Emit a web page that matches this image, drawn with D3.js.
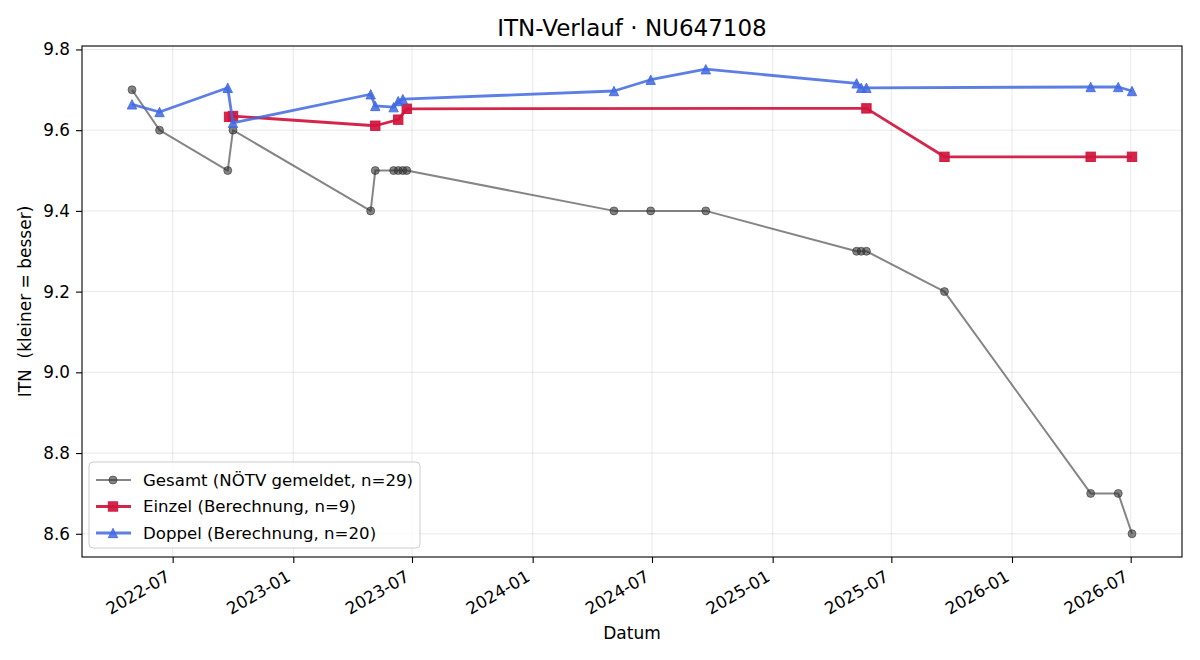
<!DOCTYPE html>
<html lang="de">
<head>
<meta charset="UTF-8" />
<title>ITN-Verlauf</title>
<script src="https://d3js.org/d3.v7.min.js"></script>
<style>
    body { margin: 0; background: #fff; font-family: "DejaVu Sans", sans-serif; }
    .grid line { stroke: #b0b0b0; stroke-opacity: 0.35; stroke-width: 0.8; }
    .axis text { font-size: 16.8px; fill: #000; font-family: "DejaVu Sans", sans-serif; }
    .axis line, .axis path { stroke: #000; stroke-width: 1.1; }
    text { white-space: pre; }
</style>
</head>
<body>
<div id="chart"></div>
<script>
// Gesamt (NÖTV gemeldet)
var gesamtDates = ["2022-04-30", "2022-06-11", "2022-09-23", "2022-10-01", "2023-04-29", "2023-05-06",
    "2023-06-03", "2023-06-10", "2023-06-17", "2023-06-23", "2024-05-04", "2024-06-29", "2024-09-21",
    "2025-05-09", "2025-05-16", "2025-05-24", "2025-09-20", "2026-05-01", "2026-06-12", "2026-07-03"];
var gesamtValues = [9.7, 9.6, 9.5, 9.6, 9.4, 9.5, 9.5, 9.5, 9.5, 9.5, 9.4, 9.4, 9.4,
    9.3, 9.3, 9.3, 9.2, 8.7, 8.7, 8.6];

// Einzel (Berechnung)
var einzelDates = ["2022-09-25", "2022-10-01", "2023-05-06", "2023-06-10", "2023-06-23",
    "2025-05-24", "2025-09-20", "2026-05-01", "2026-07-03"];
var einzelValues = [9.633, 9.635, 9.611, 9.626, 9.653, 9.654, 9.534, 9.534, 9.534];

// Doppel (Berechnung)
var doppelDates = ["2022-04-30", "2022-06-11", "2022-09-23", "2022-10-01", "2023-04-29", "2023-05-06",
    "2023-06-03", "2023-06-10", "2023-06-17", "2024-05-04", "2024-06-29", "2024-09-21",
    "2025-05-09", "2025-05-16", "2025-05-24", "2026-05-01", "2026-06-12", "2026-07-03"];
var doppelValues = [9.664, 9.645, 9.705, 9.618, 9.689, 9.660, 9.657, 9.672, 9.677, 9.697, 9.725, 9.751,
    9.716, 9.705, 9.705, 9.707, 9.707, 9.697];

var yTicks = [8.6, 8.8, 9.0, 9.2, 9.4, 9.6, 9.8];
var legendLabels = ["Gesamt (NÖTV gemeldet, n=29)", "Einzel (Berechnung, n=9)", "Doppel (Berechnung, n=20)"];

function init() {
    var W = 1200, H = 660;
    var m = { left: 82, right: 18, top: 46, bottom: 103 };
    var w = W - m.left - m.right;
    var h = H - m.top - m.bottom;
    var parse = d3.utcParse("%Y-%m-%d");

    function pack(dates, vals) {
        return dates.map(function(d, i) { return { date: parse(d), v: vals[i] }; });
    }
    var series = [
        { data: pack(gesamtDates, gesamtValues), color: "#333333", opacity: 0.6, lw: 2, marker: "circle", size: 8 },
        { data: pack(einzelDates, einzelValues), color: "#d0143c", opacity: 0.92, lw: 2.8, marker: "square", size: 9.4 },
        { data: pack(doppelDates, doppelValues), color: "#4169e1", opacity: 0.85, lw: 2.8, marker: "triangle", size: 9.4 }
    ];

    var all = series[0].data.concat(series[1].data, series[2].data);
    var xExt = d3.extent(all, function(d) { return d.date; });
    var yExt = d3.extent(all, function(d) { return d.v; });
    var xPad = (xExt[1] - xExt[0]) * 0.05;
    var yPad = (yExt[1] - yExt[0]) * 0.05;

    var x = d3.scaleUtc()
        .domain([new Date(+xExt[0] - xPad), new Date(+xExt[1] + xPad)])
        .range([0, w]);
    var y = d3.scaleLinear()
        .domain([yExt[0] - yPad, yExt[1] + yPad])
        .range([h, 0]);

    var svg = d3.select("#chart").append("svg")
        .attr("width", W).attr("height", H);
    var g = svg.append("g").attr("transform", "translate(" + m.left + "," + m.top + ")");

    var xTicks = d3.utcMonth.every(6).range(parse("2022-07-01"), parse("2026-07-02"));

    // grid
    var grid = g.append("g").attr("class", "grid");
    grid.selectAll(".gx").data(xTicks).enter().append("line")
        .attr("x1", function(d) { return x(d); }).attr("x2", function(d) { return x(d); })
        .attr("y1", 0).attr("y2", h);
    grid.selectAll(".gy").data(yTicks).enter().append("line")
        .attr("y1", function(d) { return y(d); }).attr("y2", function(d) { return y(d); })
        .attr("x1", 0).attr("x2", w);

    // axes
    var xAxis = g.append("g").attr("class", "axis")
        .attr("transform", "translate(0," + h + ")")
        .call(d3.axisBottom(x).tickValues(xTicks).tickFormat(d3.utcFormat("%Y-%m")).tickSizeOuter(0).tickSize(6));
    xAxis.select(".domain").remove();
    // right edge of rotated box on the tick, top of box just below the tick
    xAxis.selectAll("text")
        .attr("text-anchor", "end")
        .attr("dy", null)
        .attr("y", 0).attr("x", 0)
        .attr("transform", "translate(-2,23) rotate(-30)");

    var yAxis = g.append("g").attr("class", "axis")
        .call(d3.axisLeft(y).tickValues(yTicks).tickFormat(d3.format(".1f")).tickSizeOuter(0).tickSize(6).tickPadding(6));
    yAxis.select(".domain").remove();

    // frame
    g.append("rect").attr("width", w).attr("height", h)
        .attr("fill", "none").attr("stroke", "#000").attr("stroke-width", 1.1);

    function drawMarker(sel, type, size) {
        var r = size / 2;
        if (type === "circle") {
            sel.append("circle").attr("r", r);
        } else if (type === "square") {
            sel.append("rect").attr("x", -r).attr("y", -r).attr("width", size).attr("height", size);
        } else {
            sel.append("path").attr("d", "M0," + (-r) + "L" + r + "," + r + "L" + (-r) + "," + r + "Z");
        }
    }

    var line = d3.line().x(function(d) { return x(d.date); }).y(function(d) { return y(d.v); });

    series.forEach(function(s) {
        var sg = g.append("g");
        sg.append("path").datum(s.data)
            .attr("d", line)
            .attr("fill", "none")
            .attr("stroke", s.color)
            .attr("stroke-opacity", s.opacity)
            .attr("stroke-width", s.lw)
            .attr("stroke-linejoin", "round");
        var pts = sg.selectAll(".pt").data(s.data).enter().append("g")
            .attr("transform", function(d) { return "translate(" + x(d.date) + "," + y(d.v) + ")"; })
            .attr("fill", s.color).attr("fill-opacity", s.opacity)
            .attr("stroke", s.color).attr("stroke-opacity", s.opacity).attr("stroke-width", 1);
        pts.each(function() { drawMarker(d3.select(this), s.marker, s.size); });
    });

    // legend
    var lg = svg.append("g").attr("transform", "translate(89,462)");
    lg.append("rect").attr("width", 331).attr("height", 86).attr("rx", 4)
        .attr("fill", "#fff").attr("fill-opacity", 0.8)
        .attr("stroke", "#cccccc").attr("stroke-width", 1);
    series.forEach(function(s, i) {
        var row = lg.append("g").attr("transform", "translate(0," + (18 + i * 26.5) + ")");
        row.append("line").attr("x1", 7).attr("x2", 42).attr("y1", 0).attr("y2", 0)
            .attr("stroke", s.color).attr("stroke-opacity", s.opacity).attr("stroke-width", s.lw);
        var mk = row.append("g").attr("transform", "translate(24,0)")
            .attr("fill", s.color).attr("fill-opacity", s.opacity)
            .attr("stroke", s.color).attr("stroke-opacity", s.opacity);
        drawMarker(mk, s.marker, s.size);
        row.append("text").attr("x", 54).attr("y", 0).attr("dy", "0.35em")
            .attr("font-size", "16.6px").text(legendLabels[i]);
    });

    // titles
    svg.append("text").attr("x", m.left + w / 2).attr("y", 36)
        .attr("text-anchor", "middle").attr("font-size", "23px").text("ITN-Verlauf · NU647108");
    svg.append("text").attr("x", m.left + w / 2).attr("y", 639)
        .attr("text-anchor", "middle").attr("font-size", "17px").text("Datum");
    svg.append("text").attr("transform", "translate(31," + (m.top + h / 2) + ") rotate(-90)")
        .attr("text-anchor", "middle").attr("font-size", "17px").text("ITN  (kleiner = besser)");
}

init();
</script>
</body>
</html>
